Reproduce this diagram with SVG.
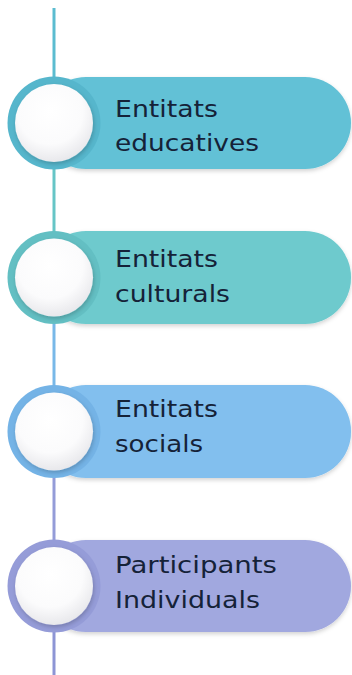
<svg xmlns="http://www.w3.org/2000/svg" width="352" height="675" viewBox="0 0 352 675">
<style>
  .lbl { font-family: "DejaVu Sans", "Liberation Sans", sans-serif; font-size: 23px; fill: #152238; }
  .ln { stroke-width: 3; fill: none; }
</style>
<defs>
  <radialGradient id="wg" cx="0.45" cy="0.35" r="0.7">
    <stop offset="0" stop-color="#ffffff"/>
    <stop offset="0.6" stop-color="#fbfbfc"/>
    <stop offset="1" stop-color="#e4e4e8"/>
  </radialGradient>
  <filter id="sh" x="-10%" y="-20%" width="120%" height="150%">
    <feDropShadow dx="0" dy="2" stdDeviation="2" flood-color="#000" flood-opacity="0.18"/>
  </filter>
  <filter id="ish" x="-20%" y="-20%" width="140%" height="140%">
    <feDropShadow dx="1" dy="2" stdDeviation="2" flood-color="#000" flood-opacity="0.2"/>
  </filter>
</defs>
<g id="connectors">
  <line class="ln" x1="54" y1="8" x2="54" y2="80" stroke="#5bbcd0"/>
  <line class="ln" x1="54" y1="166" x2="54" y2="234" stroke="#66c5c6"/>
  <line class="ln" x1="54" y1="320" x2="54" y2="388" stroke="#78b8e8"/>
  <line class="ln" x1="54" y1="475" x2="54" y2="543" stroke="#949cd8"/>
  <line class="ln" x1="54" y1="629" x2="54" y2="675" stroke="#8d95d5"/>
</g>
<g id="node1">
  <rect x="40" y="77" width="311" height="92" rx="46" fill="#62c1d6" filter="url(#sh)"/>
  <circle cx="54" cy="123" r="46.5" fill="#56b6cc"/>
  <circle cx="54" cy="123" r="39" fill="url(#wg)" filter="url(#ish)"/>
  <text class="lbl" x="115" y="117" textLength="103" lengthAdjust="spacingAndGlyphs">Entitats</text>
  <text class="lbl" x="115" y="151" textLength="144" lengthAdjust="spacingAndGlyphs">educatives</text>
</g>
<g id="node2">
  <rect x="40" y="231" width="311" height="93" rx="46" fill="#6ecacd" filter="url(#sh)"/>
  <circle cx="54" cy="277.5" r="46.5" fill="#63bfc3"/>
  <circle cx="54" cy="277.5" r="39" fill="url(#wg)" filter="url(#ish)"/>
  <text class="lbl" x="115" y="267" textLength="103" lengthAdjust="spacingAndGlyphs">Entitats</text>
  <text class="lbl" x="115" y="302" textLength="115" lengthAdjust="spacingAndGlyphs">culturals</text>
</g>
<g id="node3">
  <rect x="40" y="385" width="311" height="93" rx="46" fill="#82bfee" filter="url(#sh)"/>
  <circle cx="54" cy="431.5" r="46.5" fill="#74b3e6"/>
  <circle cx="54" cy="431.5" r="39" fill="url(#wg)" filter="url(#ish)"/>
  <text class="lbl" x="115" y="417" textLength="103" lengthAdjust="spacingAndGlyphs">Entitats</text>
  <text class="lbl" x="115" y="452" textLength="88" lengthAdjust="spacingAndGlyphs">socials</text>
</g>
<g id="node4">
  <rect x="40" y="540" width="311" height="92" rx="46" fill="#a1a8df" filter="url(#sh)"/>
  <circle cx="54" cy="586" r="46.5" fill="#959cd8"/>
  <circle cx="54" cy="586" r="39" fill="url(#wg)" filter="url(#ish)"/>
  <text class="lbl" x="115" y="573" textLength="162" lengthAdjust="spacingAndGlyphs">Participants</text>
  <text class="lbl" x="115" y="608" textLength="145" lengthAdjust="spacingAndGlyphs">Individuals</text>
</g>
</svg>
